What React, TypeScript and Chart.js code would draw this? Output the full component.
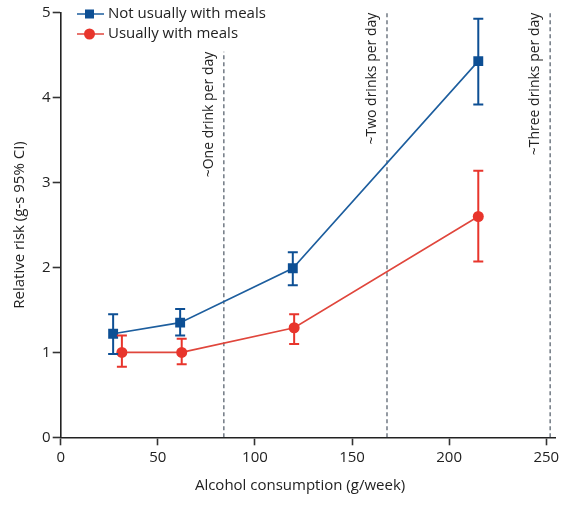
import React, { useEffect, useRef } from "react";
import { Chart, registerables } from "chart.js";

Chart.register(...registerables);

// ---- data ----
const seriesNames = ["Not usually with meals", "Usually with meals"];
const notWithMealsX = [27, 61.5, 119.5, 215];
const notWithMealsRR = [1.22, 1.35, 1.99, 4.43];
const notWithMealsLow = [0.98, 1.2, 1.79, 3.92];
const notWithMealsHigh = [1.45, 1.51, 2.18, 4.93];

const withMealsX = [31.5, 62.3, 120.2, 215];
const withMealsRR = [1.0, 1.0, 1.29, 2.6];
const withMealsLow = [0.83, 0.86, 1.1, 2.07];
const withMealsHigh = [1.2, 1.16, 1.45, 3.14];

const refLineX = [84, 168, 252];
const refLineTop = [4.54, 5, 5];
const refLineLabels = ["~One drink per day", "~Two drinks per day", "~Three drinks per day"];

const xTicks = [0, 50, 100, 150, 200, 250];
const yTicks = [0, 1, 2, 3, 4, 5];
const xTitle = "Alcohol consumption (g/week)";
const yTitle = "Relative risk (g-s 95% CI)";

const BLUE = "#0d4f94";
const BLUE_LINE = "#1d5e9e";
const RED = "#e8352c";
const RED_LINE = "#e0463c";
const FONT = "'Open Sans', 'DejaVu Sans', sans-serif";

export default function App() {
  const ref = useRef<HTMLCanvasElement | null>(null);

  useEffect(() => {
    if (!ref.current) return;
    const errSets = [
      { x: notWithMealsX, lo: notWithMealsLow, hi: notWithMealsHigh, color: BLUE },
      { x: withMealsX, lo: withMealsLow, hi: withMealsHigh, color: RED },
    ];

    const errorBarPlugin = {
      id: "errorBars",
      afterDatasetsDraw(chart: any) {
        const { ctx, scales } = chart;
        const xs = scales.x;
        const ys = scales.y;
        ctx.save();
        errSets.forEach((s) => {
          ctx.strokeStyle = s.color;
          ctx.lineWidth = 2;
          s.x.forEach((xv, i) => {
            const px = xs.getPixelForValue(xv);
            const pLo = ys.getPixelForValue(s.lo[i]);
            const pHi = ys.getPixelForValue(s.hi[i]);
            ctx.beginPath();
            ctx.moveTo(px, pLo);
            ctx.lineTo(px, pHi);
            ctx.moveTo(px - 5, pLo);
            ctx.lineTo(px + 5, pLo);
            ctx.moveTo(px - 5, pHi);
            ctx.lineTo(px + 5, pHi);
            ctx.stroke();
          });
        });
        ctx.restore();
      },
    };

    const refLabelPlugin = {
      id: "refLabels",
      afterDatasetsDraw(chart: any) {
        const { ctx, scales } = chart;
        ctx.save();
        ctx.fillStyle = "#222";
        ctx.font = `14px ${FONT}`;
        ctx.textAlign = "right";
        ctx.textBaseline = "alphabetic";
        refLineX.forEach((xv, i) => {
          const px = scales.x.getPixelForValue(xv);
          const py = scales.y.getPixelForValue(refLineTop[i]);
          ctx.save();
          ctx.translate(px - 11, py);
          ctx.rotate(-Math.PI / 2);
          ctx.fillText(refLineLabels[i], 0, 0);
          ctx.restore();
        });
        ctx.restore();
      },
    };

    const legendPlugin = {
      id: "customLegend",
      afterDraw(chart: any) {
        const { ctx } = chart;
        const items = [
          { label: seriesNames[0], color: BLUE, line: BLUE_LINE, style: "rect" },
          { label: seriesNames[1], color: RED, line: RED_LINE, style: "circle" },
        ];
        ctx.save();
        ctx.font = `15px ${FONT}`;
        ctx.textBaseline = "middle";
        ctx.textAlign = "left";
        items.forEach((it, i) => {
          const y = 14 + i * 20;
          ctx.strokeStyle = it.line;
          ctx.lineWidth = 1.5;
          ctx.beginPath();
          ctx.moveTo(77, y);
          ctx.lineTo(104, y);
          ctx.stroke();
          ctx.fillStyle = it.color;
          if (it.style === "rect") {
            ctx.fillRect(85, y - 4.5, 9, 9);
          } else {
            ctx.beginPath();
            ctx.arc(89.5, y, 5.5, 0, Math.PI * 2);
            ctx.fill();
          }
          ctx.fillStyle = "#222";
          ctx.fillText(it.label, 108, y);
        });
        ctx.restore();
      },
    };

    const refDatasets = refLineX.map((xv, i) => ({
      type: "line" as const,
      label: refLineLabels[i],
      data: [
        { x: xv, y: 0 },
        { x: xv, y: refLineTop[i] },
      ],
      borderColor: "#5a6470",
      borderWidth: 1.3,
      borderDash: [4, 3],
      pointRadius: 0,
      fill: false,
      order: 5,
    }));

    const chart = new Chart(ref.current, {
      type: "line",
      data: {
        datasets: [
          {
            label: seriesNames[0],
            data: notWithMealsX.map((x, i) => ({ x, y: notWithMealsRR[i] })),
            borderColor: BLUE_LINE,
            backgroundColor: BLUE,
            borderWidth: 1.6,
            pointStyle: "rect",
            pointRadius: 7,
            pointBorderWidth: 0,
            pointBackgroundColor: BLUE,
            fill: false,
            tension: 0,
            order: 1,
          },
          {
            label: seriesNames[1],
            data: withMealsX.map((x, i) => ({ x, y: withMealsRR[i] })),
            borderColor: RED_LINE,
            backgroundColor: RED,
            borderWidth: 1.6,
            pointStyle: "circle",
            pointRadius: 5.5,
            pointBorderWidth: 0,
            pointBackgroundColor: RED,
            fill: false,
            tension: 0,
            order: 2,
          },
          ...refDatasets,
        ] as any,
      },
      options: {
        animation: false,
        responsive: false,
        maintainAspectRatio: false,
        layout: { padding: { top: 12.7, right: 16, left: 0, bottom: 0 } },
        plugins: {
          legend: { display: false },
          tooltip: { enabled: false },
        },
        scales: {
          x: {
            type: "linear",
            min: 0,
            max: 254.5,
            afterBuildTicks: (scale: any) => {
              scale.ticks = xTicks.map((v) => ({ value: v }));
            },
            afterFit: (scale: any) => {
              scale.height = 506 - 437.3;
            },
            border: { color: "#222", width: 1.6 },
            grid: {
              drawOnChartArea: false,
              drawTicks: true,
              tickLength: 8,
              tickWidth: 1.6,
              tickColor: "#333",
            },
            ticks: {
              color: "#222",
              font: { family: FONT, size: 15 },
              padding: 3,
              maxRotation: 0,
            },
            title: {
              display: true,
              text: xTitle + "    ",
              color: "#222",
              font: { family: FONT, size: 15 },
              padding: { top: 0, bottom: 11 },
            },
          },
          y: {
            type: "linear",
            min: 0,
            max: 5,
            afterBuildTicks: (scale: any) => {
              scale.ticks = yTicks.map((v) => ({ value: v }));
            },
            afterFit: (scale: any) => {
              scale.width = 60.7;
            },
            border: { color: "#222", width: 1.6 },
            grid: {
              drawOnChartArea: false,
              drawTicks: true,
              tickLength: 8,
              tickWidth: 1.6,
              tickColor: "#333",
            },
            ticks: {
              color: "#222",
              font: { family: FONT, size: 15 },
              padding: 2,
            },
            title: {
              display: true,
              text: yTitle,
              color: "#222",
              font: { family: FONT, size: 15 },
              padding: { top: 11, bottom: 0 },
            },
          },
        },
      },
      plugins: [errorBarPlugin, refLabelPlugin, legendPlugin],
    });
    return () => chart.destroy();
  }, []);

  return (
    <div
      style={{
        position: "fixed",
        left: 0,
        top: 0,
        width: 571,
        height: 506,
        background: "#fff",
      }}
    >
      <canvas ref={ref} width={571} height={506} style={{ width: 571, height: 506, display: "block" }} />
    </div>
  );
}
